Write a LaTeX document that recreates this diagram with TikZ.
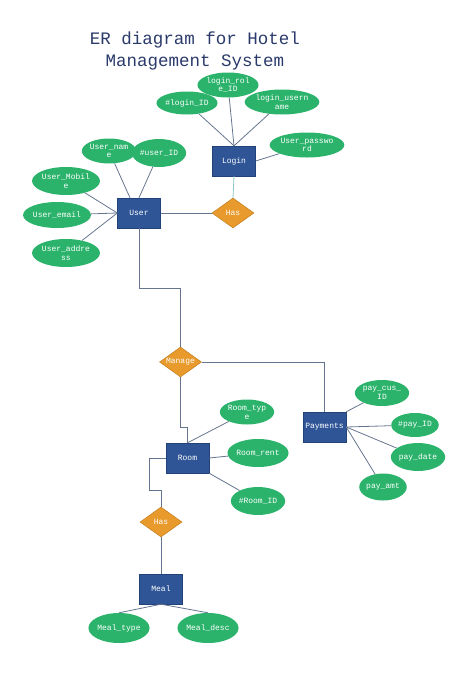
\documentclass[tikz,border=0pt]{standalone}
\usepackage{fontspec}
\setmonofont{Liberation Mono}
\usepackage{tikz}
\usetikzlibrary{shapes.geometric}

\definecolor{entblue}{HTML}{2F5597}
\definecolor{entline}{HTML}{22427A}
\definecolor{attgreen}{HTML}{2BB36B}
\definecolor{relorange}{HTML}{E99A2C}
\definecolor{relline}{HTML}{B97616}
\definecolor{linkgray}{HTML}{66758F}
\definecolor{titleblue}{HTML}{2A3A6A}

\begin{document}
\begin{tikzpicture}[
  x=1pt, y=-1pt,
  every node/.style={font=\ttfamily\fontsize{8}{8.8}\selectfont, text=white, align=center},
  entity/.style={draw=entline, fill=entblue, minimum width=43pt, minimum height=30pt, inner sep=0pt},
  attr/.style={ellipse, fill=attgreen, minimum width=50pt, minimum height=27pt, inner sep=0pt},
  rel/.style={diamond, draw=relline, fill=relorange, minimum width=42pt, minimum height=30pt, inner sep=0pt, aspect=1.4},
  link/.style={draw=linkgray, line width=0.8pt},
  title/.style={font=\ttfamily\fontsize{17.5}{22}\selectfont, text=titleblue}
]
\useasboundingbox (0,0) rectangle (474,678);

% Title
\node[title] (title) at (195,51) {ER diagram for Hotel\\Management System};

% Login and its attributes
\node[entity] (login) at (234,161) {Login};
\node[attr, minimum width=49pt, minimum height=23pt] (loginid) at (187,103) {\#login\_ID};
\node[attr, minimum width=48pt, minimum height=25pt] (loginrole) at (228,85) {login\_rol\\e\_ID};
\node[attr, minimum width=58pt, minimum height=25pt] (loginuser) at (282,102) {login\_usern\\ame};
\node[attr, minimum width=58pt, minimum height=25pt] (userpass) at (307,145) {User\_passwo\\rd};
\draw[link] (loginid) -- (login.north);
\draw[link] (loginrole) -- (login.north);
\draw[link] (loginuser) -- (login.north);
\draw[link] (userpass) -- (login.east);

% Has (User - Login)
\node[rel] (has1) at (233,213) {Has};
\draw[draw=teal!45, line width=0.8pt] (login.south) -- (has1.north);

% User and its attributes
\node[entity] (user) at (139,213) {User};
\node[attr, minimum width=45pt, minimum height=25pt] (username) at (109,151) {User\_nam\\e};
\node[attr, minimum width=45pt, minimum height=28pt] (userid) at (159,153) {\#user\_ID};
\node[attr, minimum width=58pt, minimum height=28pt] (usermobile) at (66,181) {User\_Mobil\\e};
\node[attr, minimum width=54pt, minimum height=26pt] (useremail) at (57,215) {User\_email};
\node[attr, minimum width=57pt, minimum height=28pt] (useraddr) at (66,253) {User\_addre\\ss};
\draw[link] (username) -- ([xshift=-9pt]user.north);
\draw[link] (userid) -- (user.north);
\draw[link] (usermobile) -- (user.west);
\draw[link] (useremail) -- (user.west);
\draw[link] (useraddr) -- (user.west);
\draw[link] (user) -- (has1);

% Manage
\node[rel] (manage) at (180.5,362) {Manage};
\draw[link] (user.south) -- ++(0,60) -| (manage.north);

% Payments and its attributes
\node[entity] (payments) at (324.5,427) {Payments};
\node[attr, minimum width=45pt, minimum height=26pt] (paycus) at (382,393) {pay\_cus\_\\ID};
\node[attr, minimum width=45pt, minimum height=24pt] (payid) at (415,425) {\#pay\_ID};
\node[attr, minimum width=40pt, minimum height=28pt] (paydate) at (418,457) {pay\_date};
\node[attr, minimum width=46pt, minimum height=27pt] (payamt) at (383,487) {pay\_amt};
\draw[link] (manage.east) -| (payments.north);
\draw[link] (paycus) -- (payments.north east);
\draw[link] (payid) -- (payments.east);
\draw[link] (paydate) -- (payments.east);
\draw[link] (payamt) -- (payments.east);

% Room and its attributes
\node[entity] (room) at (187.5,458) {Room};
\node[attr, minimum width=44pt, minimum height=25pt] (roomtype) at (247,412) {Room\_typ\\e};
\node[attr, minimum width=46pt, minimum height=28pt] (roomrent) at (258,453) {Room\_rent};
\node[attr, minimum width=47pt, minimum height=28pt] (roomid) at (258,501) {\#Room\_ID};
\draw[link] (manage.south) -- ++(0,50) -| (room.north);
\draw[link] (roomtype) -- (room.north);
\draw[link] (roomrent) -- (room.east);
\draw[link] (roomid) -- (room.south east);

% Has (Room - Meal)
\node[rel] (has2) at (161,522) {Has};
\draw[link] (room.west) -- ++(-16,0) -- ++(0,32) -| (has2.north);

% Meal and its attributes
\node[entity] (meal) at (161,589) {Meal};
\node[attr, minimum width=54pt, minimum height=30pt] (mealtype) at (119,628) {Meal\_type};
\node[attr, minimum width=50pt, minimum height=30pt] (mealdesc) at (208,628) {Meal\_desc};
\draw[link] (has2) -- (meal);
\draw[link] (meal.south) -- (mealtype.north);
\draw[link] (meal.south) -- (mealdesc.north);

\end{tikzpicture}
\end{document}
